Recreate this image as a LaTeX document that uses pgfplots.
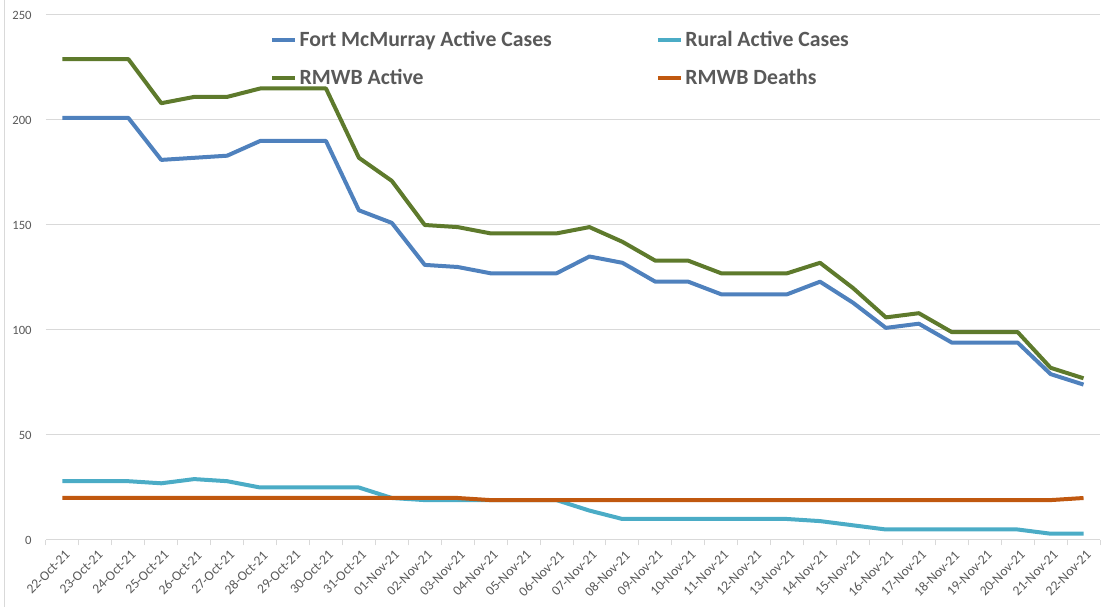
\documentclass[border=0pt]{standalone}
\usepackage{pgfplots}
\pgfplotsset{compat=1.18}
\usepackage{fontspec}
\setmainfont{Carlito}
\definecolor{fmblue}{HTML}{4F81BD}
\definecolor{rucyan}{HTML}{4BACC6}
\definecolor{rmgreen}{HTML}{5E7A2C}
\definecolor{dtorange}{HTML}{C0580F}
\definecolor{txtgray}{HTML}{595959}
\definecolor{gridgray}{HTML}{D9D9D9}
\begin{document}
\begin{tikzpicture}
\begin{axis}[
  at={(0pt,0pt)}, anchor=south west,
  scale only axis,
  width=790.5pt, height=393.75pt,
  xmin=-0.5, xmax=31.5, ymin=0, ymax=250,
  ytick={0,50,...,250},
  xtick={0,...,31},
  xticklabels={22-Oct-21,23-Oct-21,24-Oct-21,25-Oct-21,26-Oct-21,27-Oct-21,28-Oct-21,29-Oct-21,30-Oct-21,31-Oct-21,01-Nov-21,02-Nov-21,03-Nov-21,04-Nov-21,05-Nov-21,06-Nov-21,07-Nov-21,08-Nov-21,09-Nov-21,10-Nov-21,11-Nov-21,12-Nov-21,13-Nov-21,14-Nov-21,15-Nov-21,16-Nov-21,17-Nov-21,18-Nov-21,19-Nov-21,20-Nov-21,21-Nov-21,22-Nov-21},
  x tick label style={rotate=45, anchor=north east, font=\fontsize{10.2}{11}\selectfont, text=txtgray, inner sep=1pt},
  y tick label style={font=\fontsize{9.5}{11}\selectfont, text=txtgray},
  /pgf/number format/assume math mode=true,
  major x tick style={draw=none},
  minor xtick={-0.5,0.5,...,31.5},
  minor x tick style={draw=gridgray, line width=0.75pt},
  minor tick length=4pt,
  tick align=outside,
  major y tick style={draw=none},
  ymajorgrids, grid style={draw=gridgray, line width=0.75pt},
  axis line style={draw=none},
  axis x line*=bottom, axis y line*=left,
  xticklabel style={yshift=-2pt},
  yticklabel style={xshift=-3pt},
  clip=false,
  legend columns=2,
  legend style={at={(0.2125,0.974)}, anchor=north west, draw=none, fill=none,
    font=\fontsize{16.3}{19}\selectfont\bfseries, text=txtgray,
    row sep=11pt, inner sep=0pt},
  legend image post style={line width=3pt},
  legend cell align=left,
  /tikz/every even column/.append style={column sep=76pt},
  every axis plot/.append style={line width=3pt, mark=none, line join=round},
]
\draw[gridgray, line width=0.75pt] (rel axis cs:0,0) -- (rel axis cs:1,0);
\draw[gridgray, line width=0.75pt] (rel axis cs:-0.039,1.03) -- (rel axis cs:-0.039,-0.128);
\addplot[fmblue] coordinates {(0,201)(1,201)(2,201)(3,181)(4,182)(5,183)(6,190)(7,190)(8,190)(9,157)(10,151)(11,131)(12,130)(13,127)(14,127)(15,127)(16,135)(17,132)(18,123)(19,123)(20,117)(21,117)(22,117)(23,123)(24,113)(25,101)(26,103)(27,94)(28,94)(29,94)(30,79)(31,74)};
\addlegendentry{Fort McMurray Active Cases}
\addplot[rucyan] coordinates {(0,28)(1,28)(2,28)(3,27)(4,29)(5,28)(6,25)(7,25)(8,25)(9,25)(10,20)(11,19)(12,19)(13,19)(14,19)(15,19)(16,14)(17,10)(18,10)(19,10)(20,10)(21,10)(22,10)(23,9)(24,7)(25,5)(26,5)(27,5)(28,5)(29,5)(30,3)(31,3)};
\addlegendentry{Rural Active Cases}
\addplot[rmgreen] coordinates {(0,229)(1,229)(2,229)(3,208)(4,211)(5,211)(6,215)(7,215)(8,215)(9,182)(10,171)(11,150)(12,149)(13,146)(14,146)(15,146)(16,149)(17,142)(18,133)(19,133)(20,127)(21,127)(22,127)(23,132)(24,120)(25,106)(26,108)(27,99)(28,99)(29,99)(30,82)(31,77)};
\addlegendentry{RMWB Active}
\addplot[dtorange] coordinates {(0,20)(1,20)(2,20)(3,20)(4,20)(5,20)(6,20)(7,20)(8,20)(9,20)(10,20)(11,20)(12,20)(13,19)(14,19)(15,19)(16,19)(17,19)(18,19)(19,19)(20,19)(21,19)(22,19)(23,19)(24,19)(25,19)(26,19)(27,19)(28,19)(29,19)(30,19)(31,20)};
\addlegendentry{RMWB Deaths}
\end{axis}
\pgfresetboundingbox
\path[use as bounding box] (-34.5pt,-50.25pt) rectangle (793.5pt,405pt);
\end{tikzpicture}
\end{document}
